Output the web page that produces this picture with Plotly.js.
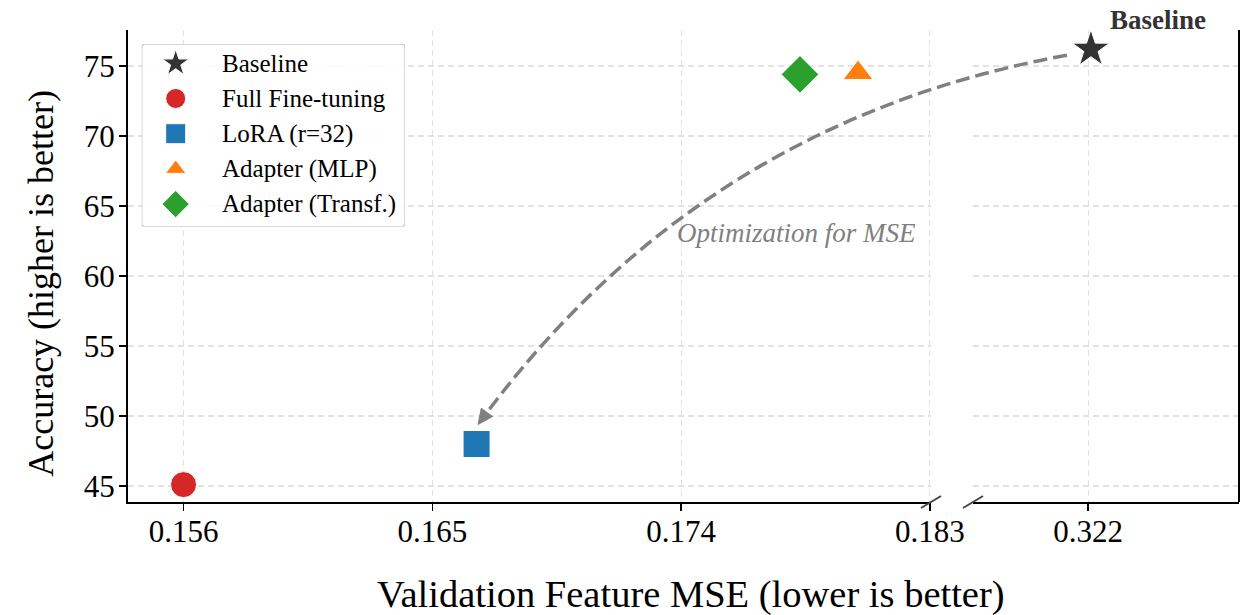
<!DOCTYPE html>
<html><head><meta charset="utf-8">
<script src="https://cdn.plot.ly/plotly-3.0.1.min.js"></script>
<style>body{margin:0;background:#fff}#chart{width:1243px;height:615px}</style>
</head><body><div id="chart"></div>
<script>
// ---- data ----
const methods  = ['Baseline', 'Full Fine-tuning', 'LoRA (r=32)', 'Adapter (MLP)', 'Adapter (Transf.)'];
const mse      = [0.3221, 0.156, 0.1666, 0.1804, 0.1783];
const accuracy = [76.2, 45.1, 48.0, 74.5, 74.4];
const xTicksLeft  = [0.156, 0.165, 0.174, 0.183];
const xTicksRight = [0.322];
const yTicks = [45, 50, 55, 60, 65, 70, 75];

// ---- styles ----
const colors  = ['#333333', '#d62728', '#1f77b4', '#ff7f0e', '#2ca02c'];
const symbols = ['star', 'circle', 'square', 'triangle-up', 'diamond'];
const sizes   = [28, 26, 27, 26, 29];
const legSizes = [20, 20, 20, 18, 21];
const FONT = 'Liberation Serif, Times New Roman, serif';

// ---- geometry ----
const FW = 1243, FH = 615;
const M = {l: 128, r: 4, t: 30, b: 113};
const PW = FW - M.l - M.r, PH = FH - M.t - M.b;
const leftDom  = [0, (931 - M.l) / PW];
const rightDom = [(973 - M.l) / PW, 1];
const xRangeL = [0.15399, 0.18304];
const xRangeR = [0.31784, 0.32745];
const yRange  = [43.857, 77.571];
const BREAK = 0.3; // values above this live on the right segment

function toPx(xv, yv) {
  const right = xv > BREAK;
  const dom = right ? rightDom : leftDom, rng = right ? xRangeR : xRangeL;
  const x = M.l + PW * (dom[0] + (dom[1] - dom[0]) * (xv - rng[0]) / (rng[1] - rng[0]));
  const y = M.t + PH * (1 - (yv - yRange[0]) / (yRange[1] - yRange[0]));
  return [x, y];
}
function toPaper(p) { return [(p[0] - M.l) / PW, (FH - M.b - p[1]) / PH]; }
function pp(p) { const q = toPaper(p); return q[0].toFixed(5) + ',' + q[1].toFixed(5); }

// ---- traces ----
const traces = methods.map((m, i) => {
  const right = mse[i] > BREAK;
  return {
    type: 'scatter', mode: 'markers', name: m, showlegend: false,
    x: [mse[i]], y: [accuracy[i]],
    xaxis: right ? 'x2' : 'x', yaxis: 'y', cliponaxis: false,
    marker: {symbol: symbols[i], size: sizes[i], color: colors[i], line: {color: 'white', width: 1}}
  };
});

// custom legend (overlay axes in pixel units)
const LB = {x0: 141.7, y0: 44, x1: 405, y1: 226.7};
const LW = LB.x1 - LB.x0, LH = LB.y1 - LB.y0;
const rowY = i => 19.3 + 35.2 * i;
methods.forEach((m, i) => {
  traces.push({
    type: 'scatter', mode: 'markers', showlegend: false, hoverinfo: 'skip',
    x: [34], y: [rowY(i)], xaxis: 'x3', yaxis: 'y3', cliponaxis: false,
    marker: {symbol: symbols[i], size: legSizes[i], color: colors[i], line: {color: 'white', width: 1}}
  });
});

// ---- arrow (matplotlib arc3 style, rad=0.2) ----
const bIdx = 0, lIdx = 2;
const pB = toPx(mse[bIdx], accuracy[bIdx]);
const pL = toPx(mse[lIdx], accuracy[lIdx]);
const S = [pB[0] - 24, pB[1] + 6];
const E = [pL[0] + 1.5, pL[1] - 19.5];
const rad = 0.2;
const mid = [(S[0] + E[0]) / 2, (S[1] + E[1]) / 2];
const dX = E[0] - S[0], dY = E[1] - S[1];
const C = [mid[0] - rad * dY, mid[1] + rad * dX];
const ecLen = Math.hypot(E[0] - C[0], E[1] - C[1]);
const u = [(E[0] - C[0]) / ecLen, (E[1] - C[1]) / ecLen];
const tEnd = 1 - 10 / (2 * ecLen);
function bez(t) {
  const a = (1 - t) * (1 - t), b = 2 * t * (1 - t), c = t * t;
  return [a * S[0] + b * C[0] + c * E[0], a * S[1] + b * C[1] + c * E[1]];
}
const Cs = [S[0] + tEnd * (C[0] - S[0]), S[1] + tEnd * (C[1] - S[1])];
const Es = bez(tEnd);
const headLen = 15, headHalf = 7;
const hb = [E[0] - u[0] * headLen, E[1] - u[1] * headLen];
const h1 = [hb[0] - u[1] * headHalf, hb[1] + u[0] * headHalf];
const h2 = [hb[0] + u[1] * headHalf, hb[1] - u[0] * headHalf];

const spineY = FH - M.b;
const breakL = M.l + PW * leftDom[1], breakR = M.l + PW * rightDom[0];
function slash(cx) {
  return {type: 'line', xref: 'paper', yref: 'paper', layer: 'above',
    x0: toPaper([cx - 10, 0])[0], x1: toPaper([cx + 10, 0])[0],
    y0: toPaper([0, spineY + 6])[1], y1: toPaper([0, spineY - 6])[1],
    line: {color: '#444444', width: 2}};
}
const r = 4;
const boxPath = `M ${r},0 H ${LW - r} Q ${LW},0 ${LW},${r} V ${LH - r} Q ${LW},${LH} ${LW - r},${LH} H ${r} Q 0,${LH} 0,${LH - r} V ${r} Q 0,0 ${r},0 Z`;

const shapes = [
  {type: 'path', xref: 'x3', yref: 'y3', layer: 'below', path: boxPath,
   fillcolor: 'rgba(255,255,255,0.9)', line: {color: '#cccccc', width: 1.5}},
  {type: 'path', xref: 'paper', yref: 'paper', layer: 'above',
   path: `M ${pp(S)} Q ${pp(Cs)} ${pp(Es)}`,
   line: {color: '#808080', width: 3.5, dash: '14px,6px'}},
  {type: 'path', xref: 'paper', yref: 'paper', layer: 'above',
   path: `M ${pp(E)} L ${pp(h1)} L ${pp(h2)} Z`,
   fillcolor: '#808080', line: {color: '#808080', width: 1}},
  // right spine of right segment
  {type: 'line', xref: 'x2 domain', yref: 'paper', layer: 'above', x0: 1, x1: 1, y0: 0, y1: 1,
   line: {color: 'black', width: 2}},
  slash(breakL), slash(breakR)
];

const annotations = [
  {xref: 'x2', yref: 'y', x: mse[bIdx], y: accuracy[bIdx], text: '<b>Baseline</b>', showarrow: false,
   xanchor: 'left', yanchor: 'middle', xshift: 17, yshift: 29, font: {family: FONT, size: 27, color: '#333333'}},
  {xref: 'x', yref: 'y', x: 0.17378, y: 63.1, text: '<i>Optimization for MSE</i>', showarrow: false,
   xanchor: 'left', yanchor: 'middle', font: {family: FONT, size: 27, color: '#808080'}},
  {xref: 'paper', yref: 'paper', x: 0.507, y: -0.195, text: 'Validation Feature MSE (lower is better)', showarrow: false,
   xanchor: 'center', yanchor: 'middle', font: {family: FONT, size: 38.5, color: 'black'}},
  {xref: 'paper', yref: 'paper', x: -0.0785, y: 0.464, text: 'Accuracy (higher is better)', showarrow: false,
   textangle: -90, xanchor: 'center', yanchor: 'middle', font: {family: FONT, size: 36, color: 'black'}}
];
methods.forEach((m, i) => annotations.push({
  xref: 'x3', yref: 'y3', x: 78, y: rowY(i), text: m, showarrow: false,
  xanchor: 'left', yanchor: 'middle', font: {family: FONT, size: 25, color: 'black'}
}));

const axBase = {
  showline: true, linecolor: 'black', linewidth: 2, mirror: false,
  ticks: 'outside', ticklen: 7, tickwidth: 1.5, tickcolor: 'black',
  showgrid: true, gridcolor: '#e2e2e2', gridwidth: 1.2, griddash: '6px,4px',
  zeroline: false, tickfont: {family: FONT, size: 31, color: 'black'}, fixedrange: true
};

const layout = {
  width: FW, height: FH, margin: M,
  paper_bgcolor: 'white', plot_bgcolor: 'rgba(0,0,0,0)',
  showlegend: false, font: {family: FONT},
  xaxis: Object.assign({}, axBase, {domain: leftDom, range: xRangeL, anchor: 'y', ticklabelstandoff: -6,
    tickmode: 'array', tickvals: xTicksLeft, ticktext: xTicksLeft.map(v => v.toFixed(3))}),
  xaxis2: Object.assign({}, axBase, {domain: rightDom, range: xRangeR, anchor: 'y', ticklabelstandoff: -6,
    tickmode: 'array', tickvals: xTicksRight, ticktext: xTicksRight.map(v => v.toFixed(3))}),
  yaxis: Object.assign({}, axBase, {domain: [0, 1], range: yRange, anchor: 'x', ticklabelstandoff: -2,
    tickmode: 'array', tickvals: yTicks}),
  xaxis3: {domain: [(LB.x0 - M.l) / PW, (LB.x1 - M.l) / PW], range: [0, LW], anchor: 'y3',
    visible: false, fixedrange: true},
  yaxis3: {domain: [(FH - M.b - LB.y1) / PH, (FH - M.b - LB.y0) / PH], range: [LH, 0], anchor: 'x3',
    visible: false, fixedrange: true},
  shapes: shapes, annotations: annotations
};

Plotly.newPlot('chart', traces, layout, {displayModeBar: false, staticPlot: true});
</script>
</body></html>
